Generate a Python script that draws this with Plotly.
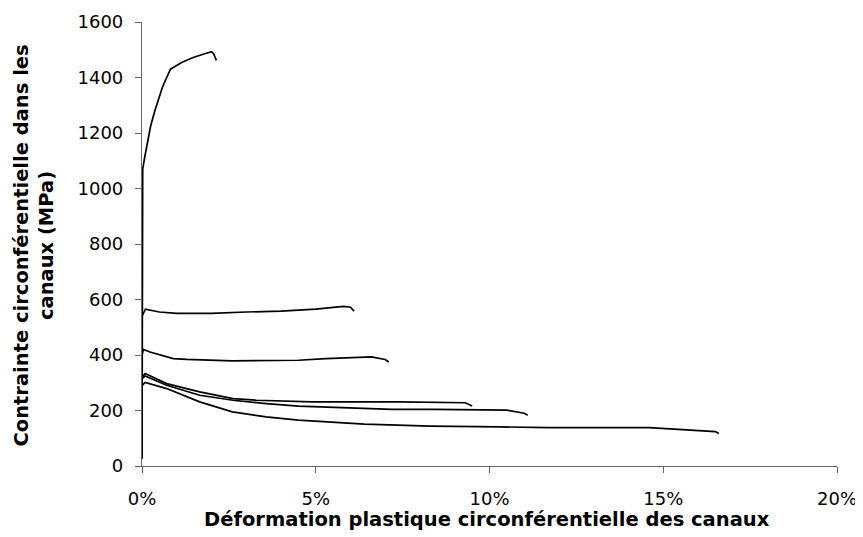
import plotly.graph_objects as go

# strain (fraction) and stress (MPa) for each test curve
c1_x = [0.0, 0.0, 0.0002, 0.00086, 0.0013, 0.0025, 0.0037, 0.0052, 0.0059, 0.0071, 0.0082, 0.0114, 0.0147, 0.0176, 0.0200, 0.0206, 0.0214]
c1_y = [25, 1064, 1070, 1118, 1148, 1226, 1280, 1334, 1366, 1400, 1430, 1454, 1472, 1484, 1493, 1486, 1462]

c2_x = [0.0, 0.0, 0.001, 0.005, 0.01, 0.02, 0.03, 0.04, 0.05, 0.055, 0.058, 0.060, 0.061]
c2_y = [25, 540, 565, 555, 550, 550, 555, 558, 565, 570, 575, 572, 558]

c3_x = [0.0, 0.0, 0.0004, 0.0023, 0.009, 0.0128, 0.026, 0.045, 0.053, 0.066, 0.070, 0.071]
c3_y = [25, 400, 420, 411, 387, 384, 379, 381, 387, 393, 384, 375]

c4_x = [0.0, 0.0, 0.0009, 0.0071, 0.0166, 0.0262, 0.0329, 0.049, 0.074, 0.093, 0.095]
c4_y = [25, 320, 333, 297, 267, 243, 237, 231, 231, 228, 216]

c5_x = [0.0, 0.0, 0.0009, 0.0071, 0.0166, 0.0262, 0.0358, 0.045, 0.072, 0.084, 0.105, 0.110, 0.111]
c5_y = [25, 315, 324, 291, 255, 237, 225, 216, 204, 204, 201, 190, 183]

c6_x = [0.0, 0.0, 0.0009, 0.0071, 0.0166, 0.026, 0.0357, 0.045, 0.064, 0.083, 0.103, 0.117, 0.146, 0.165, 0.166]
c6_y = [25, 290, 301, 279, 231, 195, 177, 165, 151, 144, 141, 138, 138, 124, 117]

x_ticks = [0, 0.05, 0.10, 0.15, 0.20]
x_tick_labels = ["0%", "5%", "10%", "15%", "20%"]
y_ticks = [0, 200, 400, 600, 800, 1000, 1200, 1400, 1600]

x_title = "Déformation plastique circonférentielle des canaux"
y_title = "Contrainte circonférentielle dans les<br>canaux (MPa)"

fig = go.Figure()
for xs, ys in [(c1_x, c1_y), (c2_x, c2_y), (c3_x, c3_y), (c4_x, c4_y), (c5_x, c5_y), (c6_x, c6_y)]:
    fig.add_trace(go.Scatter(x=xs, y=ys, mode="lines", line=dict(color="black", width=1.7), showlegend=False))

tick_font = dict(family="DejaVu Sans, sans-serif", size=18, color="black")
title_font = dict(family="DejaVu Sans, sans-serif", size=19.5, color="black", weight="bold")

fig.update_layout(
    width=855, height=529,
    margin=dict(l=134, r=26, t=14, b=71),
    paper_bgcolor="white", plot_bgcolor="white",
    font=tick_font,
    xaxis=dict(range=[0, 0.20], tickvals=x_ticks, ticktext=x_tick_labels, showgrid=False, zeroline=False,
               showline=True, linecolor="#666666", linewidth=1.2, ticks="outside", ticklen=6,
               tickcolor="#666666", ticklabelstandoff=10, automargin=False, tickfont=tick_font),
    yaxis=dict(range=[0, 1600], tickvals=y_ticks, showgrid=False, zeroline=False,
               showline=True, linecolor="#666666", linewidth=1.2, ticks="outside", ticklen=6,
               tickcolor="#666666", ticklabelstandoff=8, automargin=False, tickfont=tick_font),
    annotations=[
        dict(text=x_title, xref="paper", yref="paper",
             x=0.497, y=-0.1216, showarrow=False, xanchor="center", yanchor="middle",
             font=title_font),
        dict(text=y_title, xref="paper", yref="paper",
             x=-0.156, y=0.4955, showarrow=False, textangle=-90,
             xanchor="center", yanchor="middle", font=title_font),
    ],
)
fig.write_html("out.html")
